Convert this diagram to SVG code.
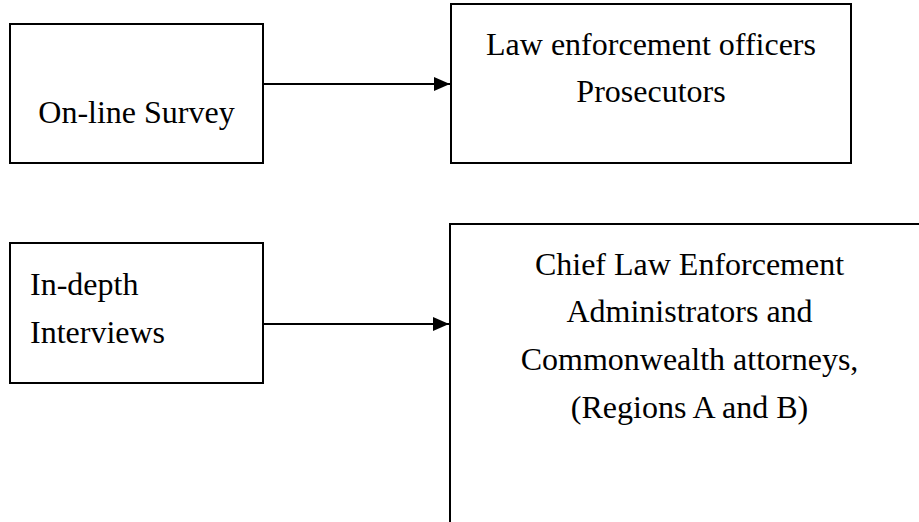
<svg xmlns="http://www.w3.org/2000/svg" width="919" height="522" viewBox="0 0 919 522">
  <style>
    .box { fill: #ffffff; stroke: #000000; stroke-width: 2; }
    .lbl { font-family: "Liberation Serif", "Times New Roman", serif; font-size: 32px; fill: #000000; }
    .mid { text-anchor: middle; }
    .conn { stroke: #000000; stroke-width: 2; fill: none; }
  </style>
  <defs>
    <marker id="arrow" markerWidth="16" markerHeight="14" refX="16" refY="7" orient="auto" markerUnits="userSpaceOnUse">
      <path d="M0,0 L16,7 L0,14 Z" fill="#000000"/>
    </marker>
  </defs>
  <rect width="919" height="522" fill="#ffffff"/>
  <g id="node-online-survey">
    <rect class="box" x="10" y="24" width="253" height="139"/>
    <text class="lbl mid" x="136.5" y="123">On-line Survey</text>
  </g>
  <g id="node-law-enforcement">
    <rect class="box" x="451" y="4" width="400" height="159"/>
    <text class="lbl mid" x="651" y="55">Law enforcement officers</text>
    <text class="lbl mid" x="651" y="102">Prosecutors</text>
  </g>
  <g id="node-in-depth">
    <rect class="box" x="10" y="243" width="253" height="140"/>
    <text class="lbl" x="30" y="295">In-depth</text>
    <text class="lbl" x="30" y="343">Interviews</text>
  </g>
  <g id="node-chief">
    <path class="box" d="M450,530 L450,224 L930,224"/>
    <text class="lbl mid" x="689.5" y="275">Chief Law Enforcement</text>
    <text class="lbl mid" x="689.5" y="322">Administrators and</text>
    <text class="lbl mid" x="689.5" y="370">Commonwealth attorneys,</text>
    <text class="lbl mid" x="689.5" y="418">(Regions A and B)</text>
  </g>
  <g id="connectors">
    <line class="conn" x1="263" y1="84" x2="450" y2="84" marker-end="url(#arrow)"/>
    <line class="conn" x1="263" y1="324" x2="449" y2="324" marker-end="url(#arrow)"/>
  </g>
</svg>
